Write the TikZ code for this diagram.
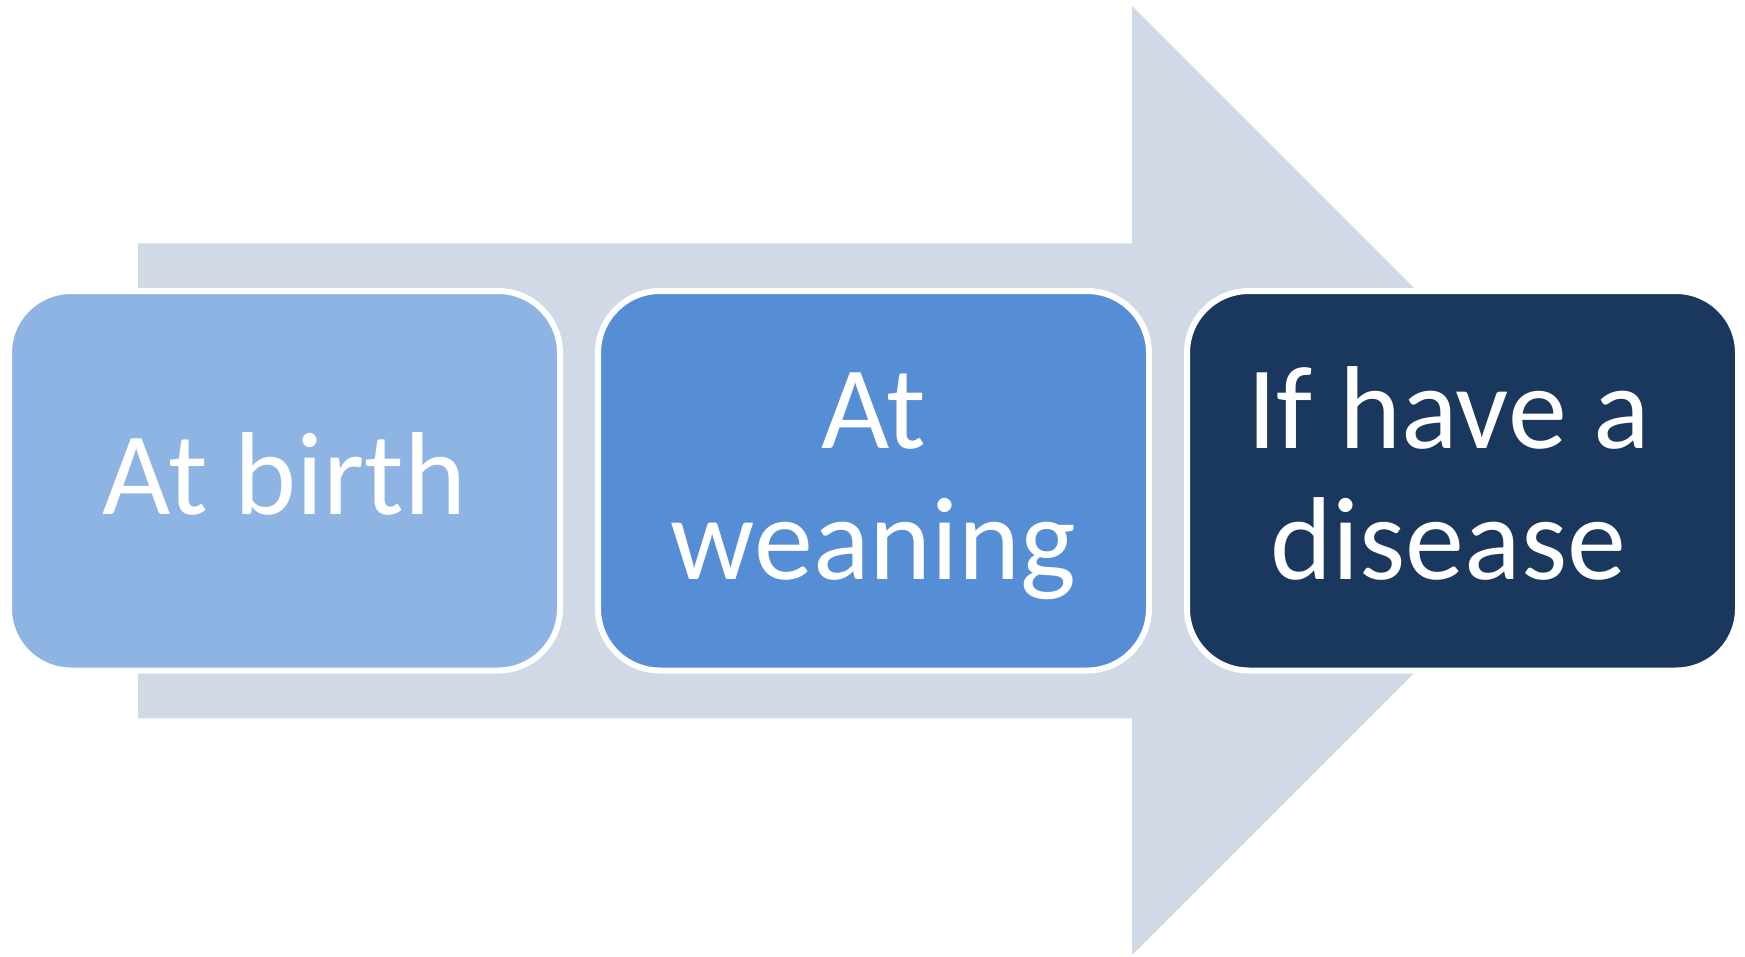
\documentclass[tikz,border=0pt]{standalone}
\usepackage{fontspec}
\setmainfont{Carlito}
\definecolor{arrowc}{HTML}{D1D9E7}
\definecolor{boxa}{HTML}{8EB4E3}
\definecolor{boxb}{HTML}{558ED5}
\definecolor{boxc}{HTML}{1A375E}
\tikzset{
  stagebox/.style={draw=white, line width=6pt, rounded corners=62pt, inner sep=0pt,
    minimum width=551pt, minimum height=379.5pt},
  lbl/.style={text=white, font=\fontsize{118}{131}\selectfont, align=center, inner sep=0pt},
}
\begin{document}
\begin{tikzpicture}[x=1pt, y=-1pt]
\useasboundingbox (0,0) rectangle (1745,956);
% background arrow
\fill[arrowc] (138,243.3) -- (1132,243.3) -- (1132,6) -- (1606.5,480.5)
  -- (1132,955) -- (1132,718.3) -- (138,718.3) -- cycle;
% stage boxes
\node[stagebox, fill=boxa] (b1) at (284.5,480.75) {};
\node[stagebox, fill=boxb] (b2) at (873.5,480.75) {};
\node[stagebox, fill=boxc] (b3) at (1462.5,480.75) {};
% labels
\node[lbl, anchor=base] (t1) at ([yshift=-33.25pt]b1.center) {At birth};
\node[lbl, anchor=base] (t2) at ([yshift=-98.25pt]b2.center) {At\\weaning};
\node[lbl, anchor=base] (t3) at ([xshift=-14pt,yshift=-98.25pt]b3.center) {If have a\\disease};
\end{tikzpicture}
\end{document}
